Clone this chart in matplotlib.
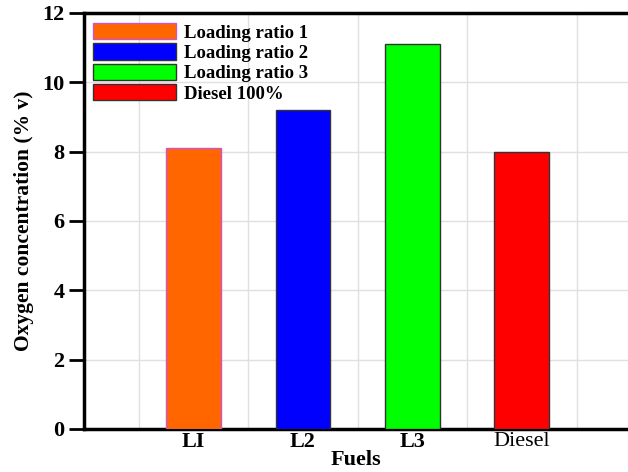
import matplotlib
matplotlib.use("Agg")
import matplotlib.pyplot as plt

categories = ["LI", "L2", "L3", "Diesel"]
values = [8.1, 9.2, 11.1, 8.0]
legend_labels = ["Loading ratio 1", "Loading ratio 2", "Loading ratio 3", "Diesel 100%"]
colors = ["#ff6600", "#0000ff", "#00ff00", "#ff0000"]
edgecolors = ["#cc55cc", "#333333", "#333333", "#333333"]
yticks = [0, 2, 4, 6, 8, 10, 12]

plt.rcParams['font.family'] = ['Liberation Serif', 'DejaVu Serif']

fig = plt.figure(figsize=(6.28, 4.72), dpi=100)
ax = fig.add_axes([84/628, 43/472, 1 - 84/628, (429-13)/472])

x = list(range(1, len(categories) + 1))
bars = ax.bar(x, values, width=0.5, color=colors, edgecolor=edgecolors, linewidth=1.0, zorder=3)

ax.set_xlim(0, 4.97)
ax.set_ylim(0, 12)
ax.set_yticks(yticks)
ax.set_yticklabels([str(t) for t in yticks], fontweight='bold', fontsize=16)
ax.set_xticks(x)
ax.set_xticklabels(categories, fontsize=16)
for lab, w in zip(ax.get_xticklabels(), ['bold', 'bold', 'bold', 'normal']):
    lab.set_fontweight(w)
ax.tick_params(axis='x', length=0, pad=2)
ax.tick_params(axis='y', direction='out', length=11, width=2, pad=3)

ax.set_xticks([0.5, 1.5, 2.5, 3.5, 4.5], minor=True)
ax.tick_params(axis='x', which='minor', length=0)
ax.grid(True, which='minor', axis='x', color='#e0e0e0', linewidth=1.0, zorder=0)
ax.grid(True, which='major', axis='y', color='#e0e0e0', linewidth=1.0, zorder=0)
ax.grid(False, which='major', axis='x')

ax.spines['right'].set_visible(False)
for s in ['left', 'bottom', 'top']:
    ax.spines[s].set_linewidth(2.5)

ax.set_ylabel("Oxygen concentration (% v)", fontsize=15.5, fontweight='bold', labelpad=6)
ax.set_xlabel("Fuels", fontsize=16, fontweight='bold', labelpad=-1)

leg = ax.legend(bars, legend_labels, loc='upper left', frameon=False,
                prop={'family': 'Liberation Serif', 'weight': 'bold', 'size': 13.5},
                handlelength=4.4, handleheight=0.95, labelspacing=0.1,
                borderaxespad=0.0, borderpad=0.0, handletextpad=0.45,
                bbox_to_anchor=(9/544, 1 - 10/416))

fig.savefig("out.png", dpi=100)
